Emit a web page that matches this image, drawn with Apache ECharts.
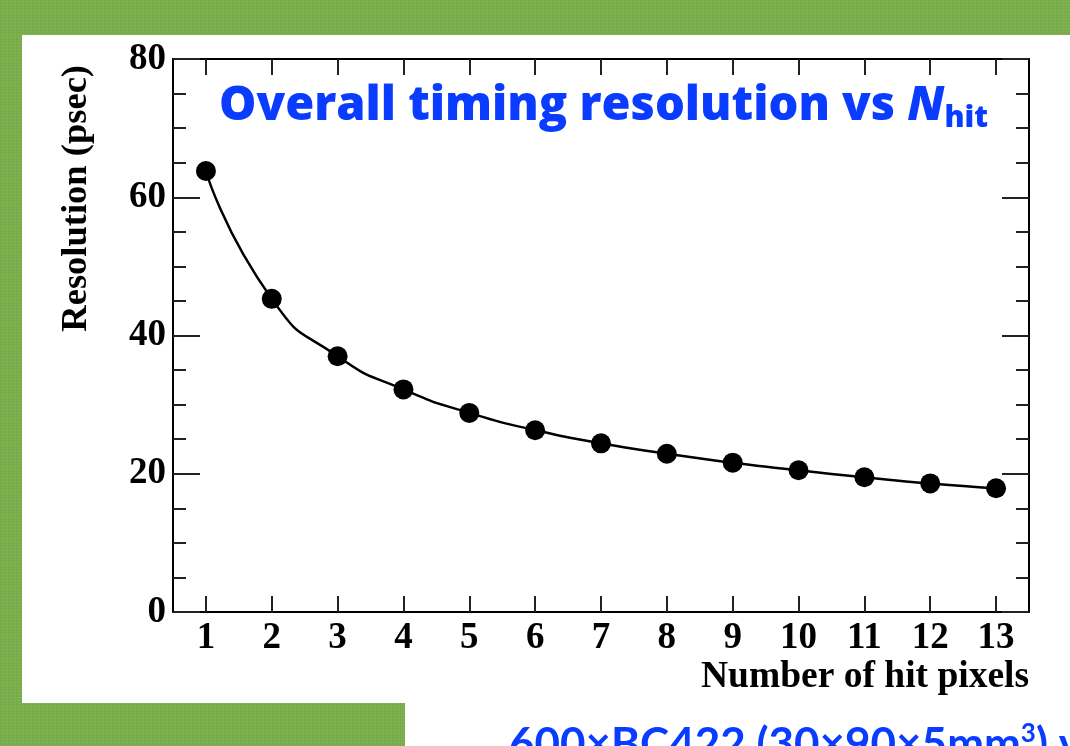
<!DOCTYPE html>
<html>
<head>
<meta charset="utf-8">
<script src="https://cdn.jsdelivr.net/npm/echarts@6/dist/echarts.min.js"></script>
<style>
  html, body { margin: 0; padding: 0; }
  body {
    width: 1070px; height: 746px; overflow: hidden; position: relative;
    background-color: #7aae4b;
    background-image: repeating-linear-gradient(0deg, rgba(255,255,255,0.05) 0px, rgba(255,255,255,0.05) 1px, rgba(0,0,0,0) 1px, rgba(0,0,0,0) 3px),
                      repeating-linear-gradient(90deg, rgba(0,0,0,0.03) 0px, rgba(0,0,0,0.03) 1px, rgba(0,0,0,0) 1px, rgba(0,0,0,0) 4px);
  }
  .panel { position: absolute; background: #ffffff; }
  #p1 { left: 22px; top: 35px; width: 1048px; height: 668px; }
  #p2 { left: 405px; top: 700px; width: 665px; height: 46px; }
  #chart { position: absolute; left: 0; top: 0; width: 1070px; height: 746px; }
</style>
</head>
<body>
<div class="panel" id="p1"></div>
<div class="panel" id="p2"></div>
<div id="chart"></div>
<script>
// ---- data ----
const hitPixels = ['1','2','3','4','5','6','7','8','9','10','11','12','13'];
const resolution = [63.8, 45.3, 37.0, 32.2, 28.8, 26.3, 24.4, 22.9, 21.6, 20.5, 19.5, 18.6, 17.9];
const titleText = 'Overall timing resolution vs ';
const titleVar = 'N';
const titleSub = 'hit';
const xName = 'Number of hit pixels';
const yName = 'Resolution (psec)';
const footerMain = '600×BC422 (30×90×5mm';
const footerSup = '3';
const footerTail = ') v';

const BLUE = '#0a3cff';
const SERIF = '"Liberation Serif", "DejaVu Serif", serif';
const SANS = '"Open Sans", Lato, sans-serif';
const SANS2 = 'Lato, "Open Sans", sans-serif';

const chart = echarts.init(document.getElementById('chart'), null, { renderer: 'canvas' });

const frameLine = { show: true, onZero: false, lineStyle: { color: '#000', width: 2 } };

chart.setOption({
  backgroundColor: 'transparent',
  animation: false,
  title: [
    {
      left: 214, top: 76,
      text: '{a|' + titleText + '}{n|' + titleVar + '}{s|' + titleSub + '}',
      textStyle: {
        rich: {
          a: { fontFamily: SANS, fontWeight: 800, fontSize: 47, lineHeight: 52, color: BLUE },
          n: { fontFamily: SANS, fontWeight: 800, fontStyle: 'italic', fontSize: 47, lineHeight: 52, color: BLUE },
          s: { fontFamily: SANS, fontWeight: 800, fontSize: 30, lineHeight: 31, color: BLUE, verticalAlign: 'bottom' }
        }
      }
    },
    {
      left: 504, top: 716,
      text: '{m|' + footerMain + '}{p|' + footerSup + '}{m|' + footerTail + '}',
      textStyle: {
        rich: {
          m: { fontFamily: SANS2, fontSize: 44, lineHeight: 48, color: BLUE },
          p: { fontFamily: SANS2, fontSize: 26, lineHeight: 26, color: BLUE, verticalAlign: 'top' }
        }
      }
    }
  ],
  grid: { left: 173, right: 41, top: 59, bottom: 134, containLabel: false, outerBoundsMode: 'none' },
  xAxis: [
    {
      type: 'category', data: hitPixels, boundaryGap: true, position: 'bottom',
      axisLine: frameLine,
      axisTick: { show: true, inside: true, alignWithLabel: true, interval: 0, length: 16, lineStyle: { color: '#222', width: 2 } },
      axisLabel: { show: true, interval: 0, margin: 8, fontFamily: SERIF, fontWeight: 'bold', fontSize: 37, color: '#000' },
      splitLine: { show: false },
      name: xName, nameLocation: 'end', nameGap: -328,
      nameTextStyle: { fontFamily: SERIF, fontWeight: 'bold', fontSize: 37.5, color: '#000', align: 'left', verticalAlign: 'top', padding: [46, 0, 0, 0] }
    },
    {
      type: 'category', data: hitPixels, boundaryGap: true, position: 'top',
      axisLine: frameLine,
      axisTick: { show: true, inside: true, alignWithLabel: true, interval: 0, length: 16, lineStyle: { color: '#222', width: 2 } },
      axisLabel: { show: false },
      splitLine: { show: false }
    }
  ],
  yAxis: [
    {
      type: 'value', min: 0, max: 80, interval: 20, position: 'left',
      axisLine: frameLine,
      axisTick: { show: true, inside: true, length: 27, lineStyle: { color: '#222', width: 2 } },
      minorTick: { show: true, splitNumber: 4, length: 13, lineStyle: { color: '#222', width: 2 } },
      axisLabel: { show: true, margin: 7, fontFamily: SERIF, fontWeight: 'bold', fontSize: 37, color: '#000' },
      splitLine: { show: false },
      name: yName, nameLocation: 'end', nameRotate: 90, nameGap: -6,
      nameTextStyle: { fontFamily: SERIF, fontWeight: 'bold', fontSize: 36.5, color: '#000', align: 'right', verticalAlign: 'bottom', padding: [0, 0, 78, 0] }
    },
    {
      type: 'value', min: 0, max: 80, interval: 20, position: 'right',
      axisLine: frameLine,
      axisTick: { show: true, inside: true, length: 27, lineStyle: { color: '#222', width: 2 } },
      minorTick: { show: true, splitNumber: 4, length: 13, lineStyle: { color: '#222', width: 2 } },
      axisLabel: { show: false },
      splitLine: { show: false }
    }
  ],
  series: [
    {
      type: 'line', xAxisIndex: 0, yAxisIndex: 0,
      data: resolution,
      smooth: 0.6,
      symbol: 'circle', symbolSize: 20,
      lineStyle: { color: '#000', width: 2.5 },
      itemStyle: { color: '#000' }
    }
  ]
});
</script>
</body>
</html>
